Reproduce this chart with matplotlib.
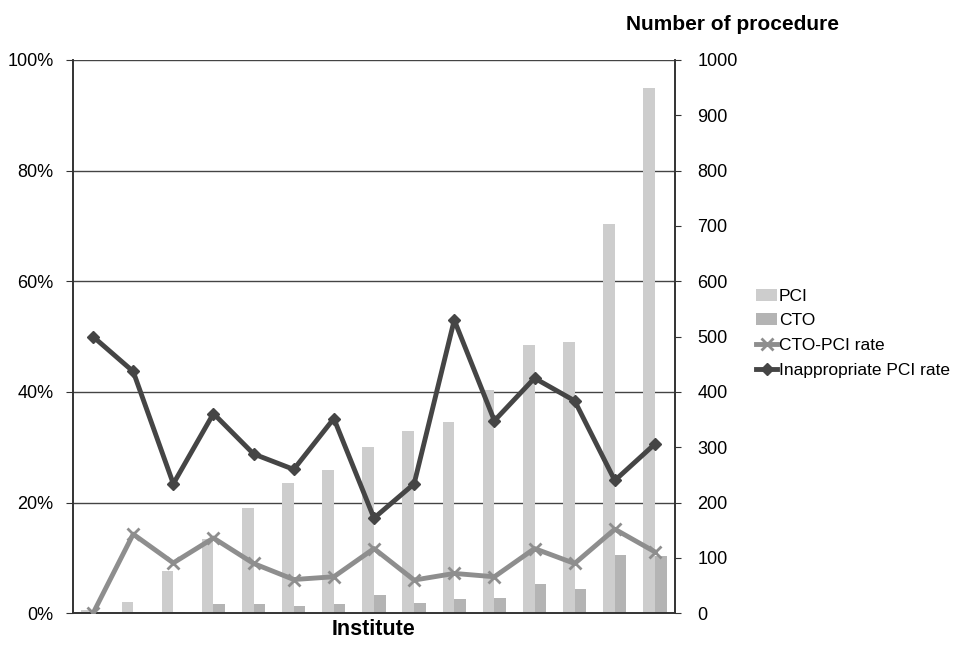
import matplotlib
matplotlib.use("Agg")
import matplotlib.pyplot as plt
import numpy as np

plt.rcParams['font.family'] = ['Liberation Sans', 'DejaVu Sans']

institutes = list(range(1, 16))
pci = [6, 20, 77, 135, 190, 235, 259, 300, 330, 346, 404, 485, 491, 703, 949]
cto = [1, 3, 2, 17, 17, 14, 17, 33, 19, 25, 28, 53, 43, 105, 104]
cto_pci_rate = [0.0, 14.3, 9.1, 13.6, 9.0, 6.1, 6.6, 11.7, 6.0, 7.2, 6.6, 11.7, 9.0, 15.2, 11.1]
inappropriate_rate = [50.0, 43.7, 23.4, 36.1, 28.8, 26.0, 35.2, 17.2, 23.4, 53.0, 34.8, 42.5, 38.4, 24.0, 30.6]

fig = plt.figure(figsize=(9.68, 6.5), dpi=100)
ax = fig.add_axes([0.0754, 0.0565, 0.6219, 0.8512])
ax2 = ax.twinx()

x = np.arange(len(institutes))
w = 0.29
ax2.bar(x - w / 2, pci, width=w, color='#cdcdcd', label='PCI', zorder=2)
ax2.bar(x + w / 2, cto, width=w, color='#b4b4b4', label='CTO', zorder=2)
ax2.set_ylim(0, 1000)
ax2.set_yticks(range(0, 1001, 100))
ax2.tick_params(axis='y', labelsize=13, length=4, color='#333333', pad=12)

l1, = ax.plot(x, cto_pci_rate, color='#8e8e8e', lw=3.5, marker='x', ms=8, mew=2,
              label='CTO-PCI rate', zorder=5)
l2, = ax.plot(x, inappropriate_rate, color='#454545', lw=3.5, marker='D', ms=6,
              label='Inappropriate PCI rate', zorder=6)
ax.set_zorder(ax2.get_zorder() + 1)
ax.patch.set_visible(False)

ax.set_ylim(0, 100)
ax.set_xlim(-0.5, len(institutes) - 0.5)
ax.set_yticks(range(0, 101, 20))
ax.set_yticklabels([f'{v}%' for v in range(0, 101, 20)])
ax.tick_params(axis='y', labelsize=13, length=5, color='#333333', pad=9)
ax.set_xticks([])
ax2.set_xticks([])
for v in range(20, 101, 20):
    ax2.axhline(v * 10, color='#444444', lw=1.0, zorder=1)

for a in (ax, ax2):
    a.spines['top'].set_visible(False)
    for s in ('left', 'right', 'bottom'):
        a.spines[s].set_color('#333333')
        a.spines[s].set_linewidth(1.2)

ax.set_xlabel('Institute', fontsize=15.5, fontweight='bold', labelpad=4)
fig.text(0.757, 0.963, 'Number of procedure', fontsize=15, fontweight='bold',
         ha='center', va='center')

h2, lab2 = ax2.get_legend_handles_labels()
fig.legend(h2 + [l1, l2], lab2 + ['CTO-PCI rate', 'Inappropriate PCI rate'],
           loc='upper left', bbox_to_anchor=(0.765, 0.58), frameon=False,
           fontsize=12.5, handlelength=1.2, handletextpad=0.1, labelspacing=0.55)

fig.savefig('out.png', dpi=100)
